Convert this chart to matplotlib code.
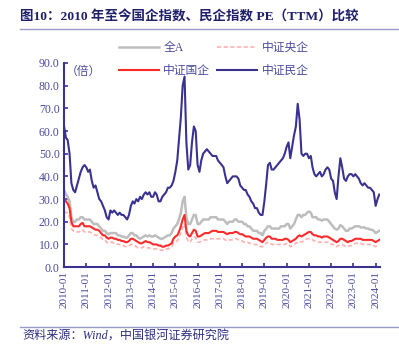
import matplotlib
matplotlib.use("Agg")
import matplotlib.pyplot as plt
import matplotlib.dates as mdates
from matplotlib.lines import Line2D
import pandas as pd

plt.rcParams['font.family'] = ['Liberation Serif', 'Noto Sans CJK SC']

# monthly PE (TTM), 2010-01 .. 2024-03
pe_all = [34, 32, 31, 29, 22, 20, 20, 21, 21, 22, 22, 21,
          21, 21, 21, 20, 19, 19, 19, 18, 17, 16, 16, 15,
          14.5, 15, 15, 15, 15, 14, 14, 13.5, 13.5, 13, 13, 14,
          15, 15, 14, 14, 13, 12.5, 13, 13.5, 14, 13.5, 14, 13.5,
          13.5, 14, 13.5, 13, 12.5, 12.5, 13, 13.5, 14, 14, 15, 17,
          18, 19, 21, 24, 29, 31, 22, 19, 19, 21, 23, 23,
          19, 19, 20, 21, 21, 21, 21, 22, 22, 22, 22, 21,
          21, 21, 21, 20, 19, 20, 20, 20, 21, 21, 20, 20,
          20, 19, 19, 18, 18, 17, 16, 16, 16, 15, 15, 14,
          16, 17, 18, 18, 17, 17, 17, 17, 17, 18, 18, 18,
          19, 19, 17, 18, 19, 21, 23, 23, 22, 23, 23, 24,
          24.5, 24, 22, 22, 22, 21, 21, 20.5, 21, 21, 21, 20,
          19, 18, 17, 16.5, 17, 18.5, 18, 17, 16, 16, 17, 17,
          17.5, 18, 18, 18, 17.5, 17.5, 17.5, 17, 17, 16.5, 16.5, 16,
          15, 15.5, 16]

pe_central = [24.5, 24, 24, 22, 17, 16, 15.5, 15.5, 15.5, 16, 16.5, 15.5,
              15.5, 15.5, 15.5, 15, 14.5, 14, 14, 13.5, 13, 12, 12, 11,
              10.5, 11, 11, 10.5, 10.5, 10, 10, 9.5, 9.5, 9, 9, 9.5,
              10, 10, 9.5, 9, 8.5, 8.5, 8.5, 9, 9, 8.5, 8.5, 8,
              8, 8, 8, 7.5, 7.5, 7.5, 7.5, 8, 8, 8.5, 9, 10.5,
              11, 11.5, 13, 15, 17.5, 19, 13, 11.5, 11, 12.5, 13.5, 13,
              11, 11, 11.5, 12, 12, 12, 12, 12.5, 12.5, 12.5, 12.5, 12.5,
              12.5, 12.5, 12.5, 12, 11.5, 12, 12, 12, 12.5, 12.5, 12, 11.5,
              11.5, 11, 11, 11, 10.5, 10.5, 10, 10, 10, 9.5, 9, 9,
              10, 10.5, 11, 11, 10, 10, 10, 10, 10, 10, 10, 10,
              10.5, 10, 9, 9.5, 10, 10.5, 11, 11.5, 11, 11.5, 12, 12.5,
              12.5, 12.5, 12, 11.5, 11.5, 11, 11, 11, 11, 11, 11, 11,
              10, 10, 9.5, 9, 9.5, 10, 10, 9.5, 9, 9, 9.5, 9.5,
              10, 10.5, 10.5, 10.5, 10.5, 10, 10, 10, 10, 10, 10, 9.5,
              9, 9.5, 10]

pe_soe = [30, 29, 28, 26, 20, 18, 18, 18, 18, 19, 19.5, 18,
          18, 18, 18, 17.5, 17, 16.5, 16.5, 16, 15, 14, 14, 13,
          12.5, 13, 13, 12.5, 12.5, 12, 12, 11.5, 11.5, 11, 11, 11.5,
          12.5, 12.5, 12, 11.5, 11, 10.5, 10.5, 11, 11.5, 11, 11, 10.5,
          10, 10, 10, 9.5, 9.5, 9, 9, 9.5, 9.5, 10, 10.5, 12.5,
          13.5, 14, 15.5, 18, 21, 23, 16, 14, 13.5, 15, 16.5, 16,
          13.5, 13.5, 14, 14.5, 15, 15, 15, 15.5, 16, 16, 16, 15.5,
          15.5, 15.5, 15.5, 15, 14.5, 15, 15, 15, 15.5, 15.5, 15, 14.5,
          14.5, 14, 13.5, 13.5, 13.5, 13, 12.5, 12.5, 12.5, 12, 11.5, 11,
          12, 13, 13.5, 13.5, 12.5, 12.5, 12.5, 12, 12, 12, 12, 12.5,
          12.5, 12, 11, 11.5, 12, 12.5, 13.5, 14, 13.5, 14, 14.5, 15,
          15.5, 15.5, 14.5, 14, 14, 13.5, 13.5, 13, 13.5, 13.5, 13.5, 13,
          12.5, 12, 11.5, 11, 11.5, 12.5, 12.5, 12, 11.5, 11, 11.5, 11.5,
          12, 12.5, 12.5, 12.5, 12.5, 12, 12, 12, 12, 12, 12, 11.5,
          11, 11.5, 12]

pe_private = [62, 57, 56, 50, 37, 34, 33, 36, 39, 42, 44, 45,
              44, 42, 43, 38, 35, 36, 33, 30, 29, 27, 25, 22,
              21, 25, 24, 25, 24, 23, 24, 23, 23, 22, 21, 23,
              27, 29, 28, 30, 29, 31, 30, 32, 33, 32, 33, 31,
              31, 33, 32, 29, 29, 31, 32, 33, 35, 35, 36, 38,
              42, 47, 56, 66, 80, 84, 55, 43, 45, 55, 62, 60,
              45, 42, 47, 50, 51, 52, 51, 50, 49, 49, 49, 47,
              46, 45, 44, 40, 37, 38, 39, 40, 40, 40, 39, 36,
              35, 34, 34, 32, 31, 29, 28, 26, 26, 24, 23, 23,
              29, 37, 45, 46, 43, 43, 44, 45, 46, 47, 48, 50,
              53, 55, 48, 53, 58, 62, 72, 65, 50, 49, 50, 50,
              48, 49, 44, 41, 40, 41, 42, 40, 41, 43, 44, 43,
              39, 38, 33, 30, 40, 48, 44, 39, 38, 40, 41, 41,
              40, 41, 40, 39, 37, 36, 37, 36, 35, 35, 34, 33,
              27, 30, 32]

dates = pd.date_range('2010-01-01', periods=len(pe_private), freq='MS')
tick_dates = pd.date_range('2010-01-01', '2024-01-01', freq='YS')

navy = '#3a3290'
txt = '#4a4a9c'

fig = plt.figure(figsize=(3.99, 3.46), dpi=100)
ax = fig.add_axes([0.160, 0.228, 0.792, 0.590])

ax.plot(dates, pe_all, color='#bdbdbd', lw=1.8, label='全A')
ax.plot(dates, pe_central, color='#ffb0b0', lw=1.2, ls=(0, (2.5, 1.5)), label='中证央企')
ax.plot(dates, pe_soe, color='#ff2a2a', lw=1.5, label='中证国企')
ax.plot(dates, pe_private, color=navy, lw=1.5, label='中证民企')

ax.set_ylim(0, 90)
ax.set_yticks(range(0, 91, 10))
ax.set_yticklabels([f'{v:.1f}' for v in range(0, 91, 10)])
ax.set_xlim(pd.Timestamp('2009-12-28'), pd.Timestamp('2024-03-10'))
ax.set_xticks(tick_dates)
ax.xaxis.set_major_formatter(mdates.DateFormatter('%Y-%m'))
ax.tick_params(axis='x', direction='in', rotation=90, length=3, width=1.2,
               colors=navy, labelcolor=txt, labelsize=8, pad=3)
ax.tick_params(axis='y', direction='in', length=3, width=1.2,
               colors=navy, labelcolor=txt, labelsize=8.5, pad=3)
for s in ['top', 'right']:
    ax.spines[s].set_visible(False)
for s in ['left', 'bottom']:
    ax.spines[s].set_color(navy)
    ax.spines[s].set_linewidth(1.5)

ax.text(0.005, 0.985, '（倍）', transform=ax.transAxes, color=txt,
        fontsize=8.5, va='top', ha='left')

h, l = ax.get_legend_handles_labels()
order = [0, 2, 1, 3]
leg = fig.legend([h[i] for i in order], [l[i] for i in order], ncol=2,
                 loc='upper left', bbox_to_anchor=(119 / 399, 1 - 42 / 346),
                 frameon=False, fontsize=8.5, handlelength=3.4,
                 handletextpad=0.35, columnspacing=0.6, labelspacing=0.95,
                 borderpad=0, borderaxespad=0)
for t in leg.get_texts():
    t.set_color(txt)

fig.text(20 / 399, 1 - 17 / 346, '图10：2010 年至今国企指数、民企指数 PE（TTM）比较',
         fontsize=9.7, fontweight='bold', color='#1f1f6b', va='center', ha='left')
fig.add_artist(Line2D([20 / 399, 398 / 399], [1 - 29 / 346] * 2,
                      color='#9a9ac8', lw=1))
fig.add_artist(Line2D([20 / 399, 398 / 399], [1 - 327 / 346] * 2,
                      color='#9a9ac8', lw=1))
fig.text(22 / 399, 1 - 337 / 346, '资料来源：Wind，中国银河证券研究院',
         fontsize=8.7, style='italic', color='#2e2e80', va='center', ha='left')

fig.savefig('out.png', dpi=100)
